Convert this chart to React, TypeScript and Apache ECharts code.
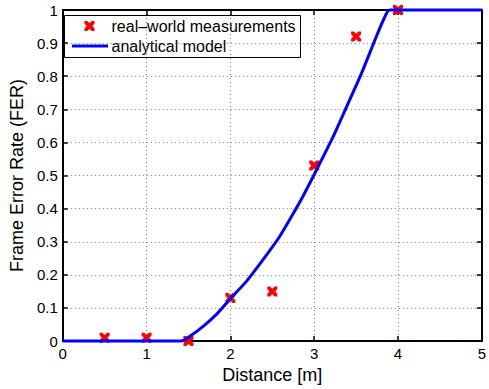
import React, { useEffect, useRef } from "react";
import * as echarts from "echarts";

const measX = [0.5, 1, 1.5, 2, 2.5, 3, 3.5, 4];
const measY = [0.01, 0.01, 0.0, 0.13, 0.15, 0.53, 0.92, 1.0];

const modelX = [0, 1.41, 1.53, 1.686, 1.843, 2.0, 2.196, 2.39, 2.588, 2.745, 2.863, 3.02, 3.216, 3.41, 3.568, 3.726, 3.824, 3.9, 5];
const modelY = [0, 0, 0.017, 0.047, 0.083, 0.128, 0.182, 0.246, 0.316, 0.383, 0.436, 0.513, 0.612, 0.721, 0.811, 0.91, 0.969, 1.0, 1.0];

const xTicks = [0, 1, 2, 3, 4, 5];
const legendLabels = ["real\u2013world measurements", "analytical model"];
const xName = "Distance [m]";
const yName = "Frame Error Rate (FER)";

const FONT = "'Liberation Sans', Arial, Helvetica, sans-serif";
const CROSS = "path://M0,0 L2.8,0 L5,2.2 L7.2,0 L10,0 L10,2.8 L7.8,5 L10,7.2 L10,10 L7.2,10 L5,7.8 L2.8,10 L0,10 L0,7.2 L2.2,5 L0,2.8 Z";

export default function App() {
  const ref = useRef<HTMLDivElement>(null);
  useEffect(() => {
    if (!ref.current) return;
    const chart = echarts.init(ref.current, null, { renderer: "svg" });
    const axisLine = { show: true, onZero: false, lineStyle: { color: "#000", width: 2 } };
    const tick = { show: true, inside: true, length: 5, lineStyle: { color: "#000", width: 1.5 } };
    const grid = { show: true, lineStyle: { color: "#777", width: 1, type: [1, 3] as any } };
    chart.setOption({
      animation: false,
      backgroundColor: "#fff",
      textStyle: { fontFamily: FONT },
      grid: { left: 60, right: 4, top: 10, bottom: 43, containLabel: false },
      xAxis: [
        {
          type: "value", min: 0, max: 5, interval: 1, position: "bottom",
          axisLine, axisTick: tick, splitLine: grid,
          axisLabel: { color: "#000", fontSize: 15, margin: 5, fontFamily: FONT,
            formatter: (v: number) => (xTicks.includes(v) ? String(v) : "") },
          name: xName, nameLocation: "middle", nameGap: 21,
          nameTextStyle: { color: "#000", fontSize: 18, fontFamily: FONT },
        },
        {
          type: "value", min: 0, max: 5, interval: 1, position: "top",
          axisLine, axisTick: tick, splitLine: { show: false }, axisLabel: { show: false },
        },
      ],
      yAxis: [
        {
          type: "value", min: 0, max: 1, interval: 0.1, position: "left",
          axisLine, axisTick: tick, splitLine: grid,
          axisLabel: { color: "#000", fontSize: 15, margin: 5, fontFamily: FONT },
          name: yName, nameLocation: "middle", nameGap: 34,
          nameTextStyle: { color: "#000", fontSize: 18, fontFamily: FONT },
        },
        {
          type: "value", min: 0, max: 1, interval: 0.1, position: "right",
          axisLine, axisTick: tick, splitLine: { show: false }, axisLabel: { show: false },
        },
      ],
      series: [
        {
          name: legendLabels[0], type: "scatter", clip: false, z: 3,
          symbol: CROSS, symbolSize: 10,
          itemStyle: { color: "#ff0000", opacity: 1 },
          data: measX.map((x, i) => [x, measY[i]]),
        },
        {
          name: legendLabels[1], type: "line", clip: false, z: 4,
          showSymbol: false, symbol: "none", smooth: 0.2,
          lineStyle: { color: "#0000ff", width: 3 },
          data: modelX.map((x, i) => [x, modelY[i]]),
        },
      ],
      graphic: [
        {
          type: "group", z: 100,
          children: [
            { type: "rect", shape: { x: 64.5, y: 15.5, width: 236, height: 42 },
              style: { fill: "#fff", stroke: "#000", lineWidth: 1 } },
            { type: "polygon", shape: { points: [
                [84.5, 21], [87.3, 21], [89.5, 23.2], [91.7, 21], [94.5, 21], [94.5, 23.8], [92.3, 26], [94.5, 28.2], [94.5, 31], [91.7, 31], [89.5, 28.8], [87.3, 31], [84.5, 31], [84.5, 28.2], [86.7, 26], [84.5, 23.8]
              ] }, style: { fill: "#ff0000" } },
            { type: "text", x: 111.5, y: 26, style: { text: legendLabels[0], fill: "#000", font: `16px ${FONT}`, verticalAlign: "middle", align: "left" } },
            { type: "line", shape: { x1: 72, y1: 46, x2: 108, y2: 46 }, style: { stroke: "#0000ff", lineWidth: 3 } },
            { type: "text", x: 111.5, y: 46, style: { text: legendLabels[1], fill: "#000", font: `16px ${FONT}`, verticalAlign: "middle", align: "left" } },
          ],
        },
      ],
    });
    return () => chart.dispose();
  }, []);
  return <div ref={ref} style={{ position: "fixed", left: 0, top: 0, width: 489, height: 389 }} />;
}
